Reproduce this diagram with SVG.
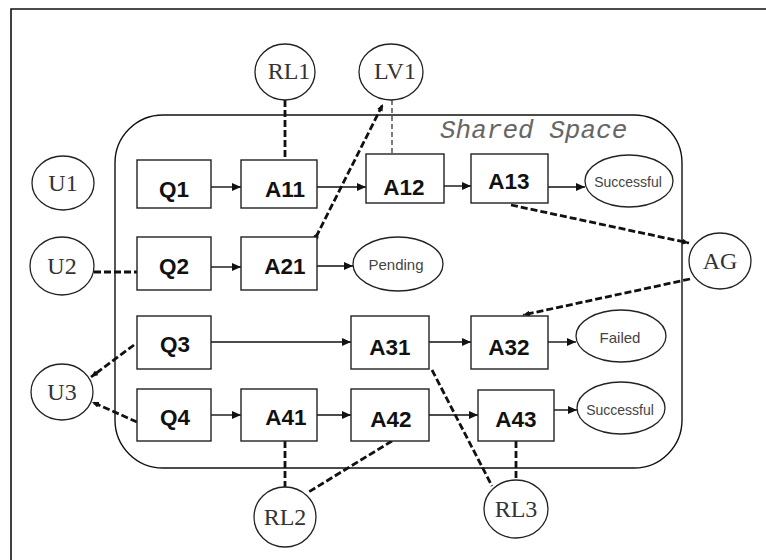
<svg xmlns="http://www.w3.org/2000/svg" width="766" height="560" viewBox="0 0 766 560">
<style>
.frame{fill:none;stroke:#111;stroke-width:1.6}
.space{fill:none;stroke:#111;stroke-width:1.4}
.box{fill:#fff;stroke:#222;stroke-width:1.4}
.circ{fill:#fff;stroke:#222;stroke-width:1.3}
.bt{font-family:"Liberation Sans",Arial,sans-serif;font-weight:bold;font-size:22.5px;fill:#111;text-anchor:middle}
.ct{font-family:"Liberation Serif","Times New Roman",serif;font-size:24px;fill:#333;text-anchor:middle}
.et{font-family:"Liberation Sans",Arial,sans-serif;font-size:14px;fill:#444;text-anchor:middle}
.sp{font-family:"Liberation Mono","Courier New",monospace;font-style:italic;font-size:26px;fill:#666}
.arr{fill:none;stroke:#111;stroke-width:1.4;marker-end:url(#ah)}
.dash{fill:none;stroke:#111;stroke-width:2.8;stroke-dasharray:7 3}
.thin{fill:none;stroke:#111;stroke-width:1.1;stroke-dasharray:5 3}
</style>
<defs>
<marker id="ah" markerUnits="userSpaceOnUse" markerWidth="9" markerHeight="8" refX="9" refY="4" orient="auto"><path d="M0,0 L9,4 L0,8 z" fill="#111"/></marker>
<marker id="sh" markerUnits="userSpaceOnUse" markerWidth="7" markerHeight="6" refX="7" refY="3" orient="auto"><path d="M0,0 L7,3 L0,6 z" fill="#111"/></marker>
<marker id="dot" markerUnits="userSpaceOnUse" markerWidth="6" markerHeight="6" refX="3" refY="3"><circle cx="3" cy="3" r="2.5" fill="#111"/></marker>
</defs>

<path class="frame" d="M11,560 L11,9 L766,9"/>
<g id="shared-space">
<rect class="space" x="115" y="115" width="567" height="353" rx="48" ry="48"/>
<text class="sp" x="440" y="138">Shared Space</text>
</g>

<g id="connectors">
<line class="arr" x1="211" y1="187" x2="241" y2="187"/>
<line class="arr" x1="317" y1="187" x2="366" y2="187"/>
<line class="arr" x1="444" y1="186" x2="471" y2="186"/>
<line class="arr" x1="548" y1="187" x2="585" y2="187"/>
<line class="arr" x1="211" y1="267" x2="241" y2="267"/>
<line class="arr" x1="317" y1="266" x2="353" y2="266"/>
<line class="arr" x1="211" y1="342" x2="351" y2="342"/>
<line class="arr" x1="429" y1="342" x2="471" y2="342"/>
<line class="arr" x1="548" y1="342" x2="576" y2="342"/>
<line class="arr" x1="211" y1="415" x2="241" y2="415"/>
<line class="arr" x1="317" y1="415" x2="351" y2="415"/>
<line class="arr" x1="429" y1="415" x2="478" y2="415"/>
<line class="arr" x1="554" y1="410" x2="577" y2="410"/>

<line class="dash" x1="285" y1="100" x2="285" y2="160"/>
<line class="thin" x1="392" y1="100" x2="392" y2="160"/>
<line class="dash" x1="316" y1="237" x2="383" y2="104" marker-end="url(#sh)" marker-start="url(#dot)"/>
<line class="dash" x1="94" y1="272" x2="137" y2="272"/>
<line class="dash" x1="134" y1="345" x2="91" y2="377" marker-end="url(#sh)"/>
<line class="dash" x1="137" y1="422" x2="92" y2="402" marker-end="url(#sh)"/>
<line class="dash" x1="511" y1="205" x2="689" y2="243" marker-end="url(#sh)"/>
<line class="dash" x1="690" y1="279" x2="523" y2="315" marker-end="url(#sh)"/>
<line class="dash" x1="432" y1="370" x2="492" y2="486"/>
<line class="dash" x1="516" y1="441" x2="516" y2="480"/>
<line class="dash" x1="285" y1="441" x2="285" y2="487"/>
<line class="dash" x1="392" y1="441" x2="307" y2="493"/>
</g>

<g id="Q1"><rect class="box" x="137" y="160" width="74" height="48"/><text class="bt" x="174" y="197">Q1</text></g>
<g id="A11"><rect class="box" x="241" y="160" width="76" height="48"/><text class="bt" x="285" y="197">A11</text></g>
<g id="A12"><rect class="box" x="366" y="154" width="78" height="49"/><text class="bt" x="404" y="195">A12</text></g>
<g id="A13"><rect class="box" x="471" y="154" width="77" height="49"/><text class="bt" x="509" y="189">A13</text></g>
<g id="Q2"><rect class="box" x="137" y="237" width="74" height="53"/><text class="bt" x="174" y="274">Q2</text></g>
<g id="A21"><rect class="box" x="241" y="237" width="76" height="53"/><text class="bt" x="285" y="274">A21</text></g>
<g id="Q3"><rect class="box" x="137" y="316" width="74" height="53"/><text class="bt" x="175" y="352">Q3</text></g>
<g id="A31"><rect class="box" x="351" y="316" width="78" height="53"/><text class="bt" x="390" y="355">A31</text></g>
<g id="A32"><rect class="box" x="471" y="316" width="77" height="53"/><text class="bt" x="509" y="355">A32</text></g>
<g id="Q4"><rect class="box" x="137" y="389" width="74" height="52"/><text class="bt" x="175" y="425">Q4</text></g>
<g id="A41"><rect class="box" x="241" y="389" width="76" height="52"/><text class="bt" x="286" y="425">A41</text></g>
<g id="A42"><rect class="box" x="351" y="389" width="78" height="52"/><text class="bt" x="391" y="427">A42</text></g>
<g id="A43"><rect class="box" x="478" y="390" width="76" height="51"/><text class="bt" x="516" y="427">A43</text></g>

<g id="S1"><ellipse class="circ" cx="629" cy="181" rx="44" ry="26"/><text class="et" x="628" y="187">Successful</text></g>
<g id="Pending"><ellipse class="circ" cx="398" cy="264" rx="45" ry="27"/><text class="et" x="396" y="270" style="font-size:15px">Pending</text></g>
<g id="Failed"><ellipse class="circ" cx="621" cy="336" rx="45" ry="26"/><text class="et" x="620" y="343" style="font-size:15px">Failed</text></g>
<g id="S2"><ellipse class="circ" cx="621" cy="408" rx="44" ry="26"/><text class="et" x="620" y="415">Successful</text></g>

<g id="RL1"><ellipse class="circ" cx="285" cy="72" rx="30" ry="28"/><text class="ct" x="289" y="79">RL1</text></g>
<g id="LV1"><ellipse class="circ" cx="391" cy="72" rx="32" ry="28"/><text class="ct" x="395" y="79">LV1</text></g>
<g id="U1"><ellipse class="circ" cx="63" cy="183" rx="31" ry="27"/><text class="ct" x="63" y="191">U1</text></g>
<g id="U2"><ellipse class="circ" cx="62" cy="266" rx="32" ry="29"/><text class="ct" x="62" y="274">U2</text></g>
<g id="U3"><ellipse class="circ" cx="62" cy="392" rx="31" ry="28"/><text class="ct" x="62" y="400">U3</text></g>
<g id="AG"><ellipse class="circ" cx="720" cy="261" rx="31" ry="28"/><text class="ct" x="720" y="269">AG</text></g>
<g id="RL2"><ellipse class="circ" cx="285" cy="517" rx="31" ry="30"/><text class="ct" x="285" y="525">RL2</text></g>
<g id="RL3"><ellipse class="circ" cx="516" cy="509" rx="32" ry="29"/><text class="ct" x="516" y="517">RL3</text></g>
</svg>
